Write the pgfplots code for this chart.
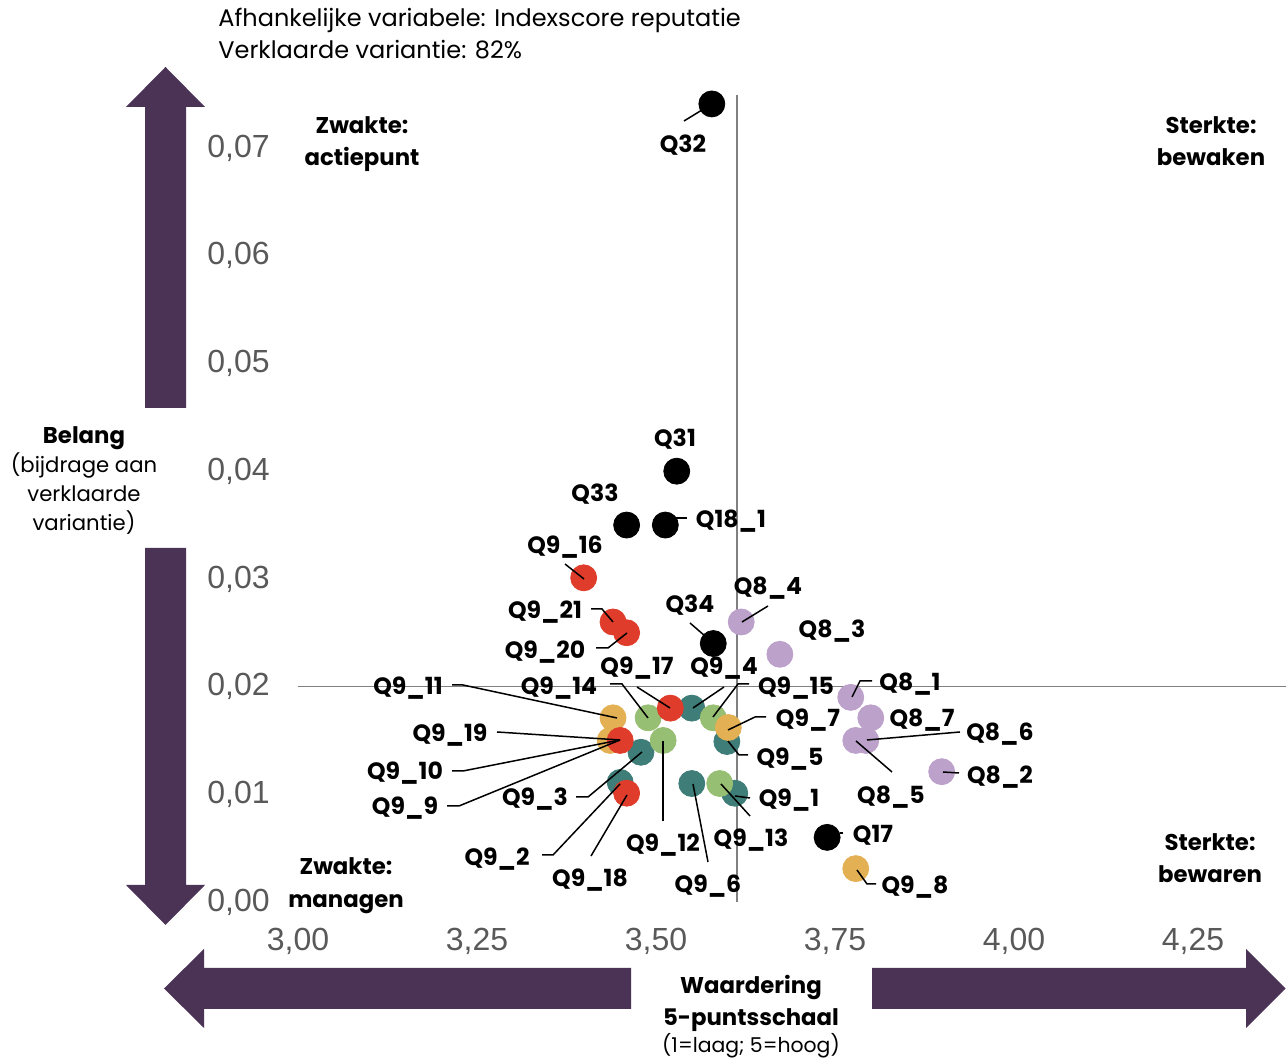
\documentclass[border=0pt]{standalone}
\usepackage{fontspec}
\setmainfont{Poppins}
\newfontfamily\tickfont{Liberation Sans}
\usepackage{pgfplots}
\pgfplotsset{compat=1.18}
\definecolor{cteal}{HTML}{3E7D78}
\definecolor{cgreen}{HTML}{97BF73}
\definecolor{cyellow}{HTML}{E3B154}
\definecolor{cred}{HTML}{E03C2B}
\definecolor{cpurple}{HTML}{BCA1CB}
\definecolor{carrow}{HTML}{4A3354}
\definecolor{tickgray}{HTML}{595959}
\definecolor{refline}{HTML}{808080}
\begin{document}
\begin{tikzpicture}
\useasboundingbox (0,0) rectangle (643pt,529.5pt);
\begin{axis}[
  at={(149pt,78.5pt)}, anchor=south west, scale only axis,
  width=494.04pt, height=403.875pt,
  xmin=3, xmax=4.38, ymin=0, ymax=0.075,
  clip=false,
  axis line style={draw=none},
  major tick length=0pt,
  xtick={3,3.25,3.5,3.75,4,4.25},
  ytick={0,0.01,0.02,0.03,0.04,0.05,0.06,0.07},
  scaled y ticks=false, scaled x ticks=false,
  /pgf/number format/assume math mode=true,
  /pgf/number format/fixed, /pgf/number format/fixed zerofill,
  /pgf/number format/precision=2, /pgf/number format/use comma,
  ticklabel style={font=\tickfont\fontsize{16}{19}\selectfont, text=tickgray},
  xticklabel style={inner sep=0pt, anchor=north, yshift=-13pt},
  yticklabel style={inner sep=0pt, anchor=east, xshift=-14pt},
  every axis plot/.append style={only marks, mark=*, mark size=6.5pt},
]
\draw[refline, line width=0.75pt] (axis cs:3,0.02) -- (axis cs:4.38,0.02);
\draw[refline, line width=0.75pt] (axis cs:3.613,0) -- (axis cs:3.613,0.0749);
% teal
\addplot[mark options={draw=cteal, fill=cteal}] coordinates {
 (3.550,0.0180) (3.479,0.0139) (3.450,0.0111) (3.550,0.0110) (3.599,0.0149) (3.610,0.0101)};
% green
\addplot[mark options={draw=cgreen, fill=cgreen}] coordinates {
 (3.489,0.0171) (3.580,0.0171) (3.510,0.0150) (3.589,0.0110)};
% yellow
\addplot[mark options={draw=cyellow, fill=cyellow}] coordinates {
 (3.440,0.0171) (3.436,0.0150) (3.601,0.0162) (3.779,0.0031)};
% red
\addplot[mark options={draw=cred, fill=cred}] coordinates {
 (3.399,0.0301) (3.440,0.0260) (3.459,0.0250) (3.520,0.0180) (3.450,0.0150) (3.459,0.0101)};
% black
\addplot[mark options={draw=black, fill=black}] coordinates {
 (3.578,0.0741) (3.529,0.0400) (3.459,0.0350) (3.513,0.0350) (3.580,0.0240) (3.739,0.0060)};
% purple
\addplot[mark options={draw=cpurple, fill=cpurple}] coordinates {
 (3.619,0.0260) (3.673,0.0230) (3.772,0.0190) (3.800,0.0171) (3.779,0.0150) (3.793,0.0150) (3.899,0.0121)};
\end{axis}
\begin{scope}[x=0.5pt, y=-0.5pt, yshift=529.5pt,
  lab/.style={inner sep=0pt, anchor=base, yshift=-4.3pt, font=\fontsize{11.8}{14}\selectfont\bfseries},
  qlab/.style={inner sep=0pt, anchor=base, yshift=-4.2pt, font=\fontsize{11.4}{14}\selectfont\bfseries},
  reg/.style={inner sep=0pt, anchor=base, yshift=-4pt, font=\fontsize{10.6}{13}\selectfont},
  ll/.style={black, line width=0.75pt}]
% arrows
\fill[carrow] (145,408) -- (145,107) -- (126,107) -- (165.5,67) -- (205,107) -- (186,107) -- (186,408) -- cycle;
\fill[carrow] (145,548) -- (145,885) -- (126,885) -- (165.5,925) -- (205,885) -- (186,885) -- (186,548) -- cycle;
\fill[carrow] (631,968) -- (204,968) -- (204,949) -- (164,988.5) -- (204,1028) -- (204,1009) -- (631,1009) -- cycle;
\fill[carrow] (872,968) -- (1246,968) -- (1246,949) -- (1285.5,988.5) -- (1246,1028) -- (1246,1009) -- (872,1009) -- cycle;
% title
\node[inner sep=0pt, anchor=base west, font=\fontsize{12}{14}\selectfont] at (218,27) {Afhankelijke variabele: Indexscore reputatie};
\node[inner sep=0pt, anchor=base west, font=\fontsize{12}{14}\selectfont] at (218,59) {Verklaarde variantie: 82\%};
% axis titles
\node[qlab] at (84,435) {Belang};
\node[reg] at (84,465) {(bijdrage aan};
\node[reg] at (84,494) {verklaarde};
\node[reg] at (84,523) {variantie)};
\node[qlab] at (751,985) {Waardering};
\node[qlab] at (751,1017) {5-puntsschaal};
\node[reg, font=\fontsize{10.2}{12}\selectfont] at (751,1045) {(1=laag; 5=hoog)};
% quadrants
\node[qlab] at (362,125) {Zwakte:};
\node[qlab] at (362,157) {actiepunt};
\node[qlab] at (1211,125) {Sterkte:};
\node[qlab] at (1211,157) {bewaken};
\node[qlab] at (346,866) {Zwakte:};
\node[qlab] at (346,899) {managen};
\node[qlab] at (1210,842) {Sterkte:};
\node[qlab] at (1210,874) {bewaren};
% leader lines
\draw[ll] (684,121) -- (702,110);
\draw[ll] (672,518) -- (687,518);
\draw[ll] (565,564) -- (584,579);
\draw[ll] (591,609) -- (602,609) -- (613,622);
\draw[ll] (596,648) -- (608,648) -- (627,633);
\draw[ll] (690,623) -- (705,636);
\draw[ll] (768,606) -- (742,622);
\draw[ll] (637,687) -- (670,708);
\draw[ll] (724,687) -- (693,708);
\draw[ll] (610,684) -- (622,684) -- (648,718);
\draw[ll] (452,685) -- (463,685) -- (617,718);
\draw[ll] (749,684) -- (738,684) -- (713,717);
\draw[ll] (872,681) -- (860,681) -- (852,697);
\draw[ll] (766,717) -- (755,717) -- (728,730);
\draw[ll] (497,732) -- (620,740);
\draw[ll] (960,732) -- (867,740);
\draw[ll] (748,755) -- (739,755) -- (728,741);
\draw[ll] (452,771) -- (463,771) -- (620,740);
\draw[ll] (959,773) -- (943,772);
\draw[ll] (892,772) -- (856,741);
\draw[ll] (447,806) -- (459,806) -- (620,740);
\draw[ll] (576,797) -- (588,797) -- (642,752);
\draw[ll] (750,798) -- (735,796);
\draw[ll] (750,816) -- (721,784);
\draw[ll] (663,821) -- (663,741);
\draw[ll] (708,862) -- (693,784);
\draw[ll] (542,855) -- (553,855) -- (620,784);
\draw[ll] (591,856) -- (627,795);
\draw[ll] (840,833) -- (843,833);
\draw[ll] (876,884) -- (867,884) -- (857,870);
% data labels
\node[lab] at (683,144) {Q32};
\node[lab] at (675,438) {Q31};
\node[lab] at (595,493) {Q33};
\node[lab] at (731,519) {Q18\_1};
\node[lab] at (565,545) {Q9\_16};
\node[lab] at (545,610) {Q9\_21};
\node[lab] at (545,650) {Q9\_20};
\node[lab] at (690,604) {Q34};
\node[lab] at (768,586) {Q8\_4};
\node[lab] at (832,629) {Q8\_3};
\node[lab] at (637,666) {Q9\_17};
\node[lab] at (724,666) {Q9\_4};
\node[lab] at (559,686) {Q9\_14};
\node[lab] at (408,686) {Q9\_11};
\node[lab] at (796,686) {Q9\_15};
\node[lab] at (910,682) {Q8\_1};
\node[lab] at (808,718) {Q9\_7};
\node[lab] at (922,718) {Q8\_7};
\node[lab] at (450,733) {Q9\_19};
\node[lab] at (1000,732) {Q8\_6};
\node[lab] at (790,757) {Q9\_5};
\node[lab] at (405,771) {Q9\_10};
\node[lab] at (1000,775) {Q8\_2};
\node[lab] at (891,795) {Q8\_5};
\node[lab] at (405,806) {Q9\_9};
\node[lab] at (535,797) {Q9\_3};
\node[lab] at (789,798) {Q9\_1};
\node[lab] at (751,838) {Q9\_13};
\node[lab] at (663,843) {Q9\_12};
\node[lab] at (708,884) {Q9\_6};
\node[lab] at (497,857) {Q9\_2};
\node[lab] at (590,878) {Q9\_18};
\node[lab] at (873,834) {Q17};
\node[lab] at (915,885) {Q9\_8};
\end{scope}
\end{tikzpicture}
\end{document}
